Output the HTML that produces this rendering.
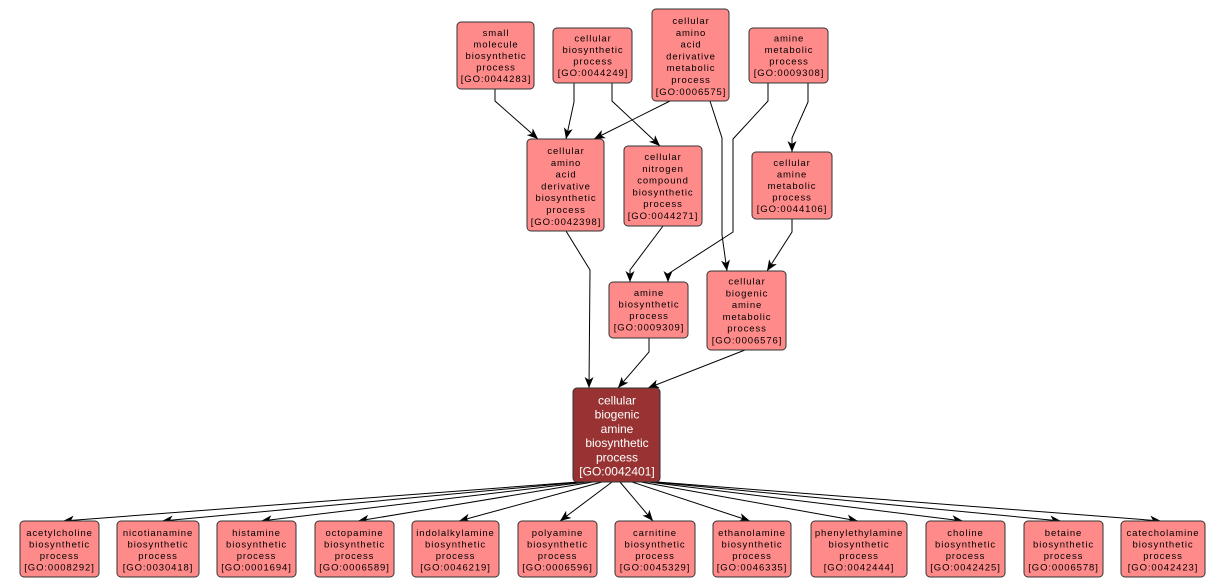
<!DOCTYPE html>
<html>
<head>
<meta charset="utf-8">
<style>
html,body{margin:0;padding:0;background:#fff;}
svg{display:block;}
.n rect{fill:#ff8a8a;stroke:#333;stroke-width:1;}
.n text{font-family:"Liberation Sans",sans-serif;font-size:9.5px;letter-spacing:0.9px;fill:#000;text-anchor:middle;}
.c rect{fill:#993333;stroke:#333;stroke-width:1;}
.c text{font-family:"Liberation Sans",sans-serif;font-size:12px;fill:#fff;text-anchor:middle;}
.e{fill:none;stroke:#000;stroke-width:1;marker-end:url(#ah);}
</style>
</head>
<body>
<svg width="1226" height="588" viewBox="0 0 1226 588" xmlns="http://www.w3.org/2000/svg">
<defs>
<marker id="ah" markerUnits="userSpaceOnUse" markerWidth="12" markerHeight="10" refX="11" refY="4.5" orient="auto">
<path d="M0,0 L11,4.5 L0,9 L3,4.5 z" fill="#000"/>
</marker>
</defs>

<!-- edges top -->
<polyline class="e" points="495,89 495,101 538,139"/>
<polyline class="e" points="574,83 574,102 566,139"/>
<polyline class="e" points="612,83 612,101 660,146"/>
<polyline class="e" points="670,101 594,139"/>
<polyline class="e" points="710,101 722,138 722,235 727,271"/>
<polyline class="e" points="768,83 768,101 733,139 733,232 668,274 668,282"/>
<polyline class="e" points="808,83 808,102 792,138 792,152"/>
<polyline class="e" points="792,219 792,232 767,271"/>
<polyline class="e" points="663,226 630,270 630,282"/>
<polyline class="e" points="566,231 590,270 589,388"/>
<polyline class="e" points="649,338 649,352 618,388"/>
<polyline class="e" points="745,350 648,388"/>

<!-- edges bottom -->
<polyline class="e" points="578,482 63,521"/>
<polyline class="e" points="582,482 162,521"/>
<polyline class="e" points="587,482 261,521"/>
<polyline class="e" points="593,482 358,521"/>
<polyline class="e" points="602,482 459,521"/>
<polyline class="e" points="612,482 560,521"/>
<polyline class="e" points="620,482 653,521"/>
<polyline class="e" points="632,482 750,521"/>
<polyline class="e" points="641,482 858,521"/>
<polyline class="e" points="648,482 963,521"/>
<polyline class="e" points="653,482 1061,521"/>
<polyline class="e" points="657,482 1161,521"/>

<!-- top row -->
<g class="n"><rect x="457" y="22" width="77" height="67" rx="4"/>
<text x="496" y="36">small</text><text x="496" y="47.5">molecule</text><text x="496" y="59">biosynthetic</text><text x="496" y="70.5">process</text><text x="496" y="82">[GO:0044283]</text></g>

<g class="n"><rect x="553" y="28" width="79" height="55" rx="4"/>
<text x="593" y="41.5">cellular</text><text x="593" y="53">biosynthetic</text><text x="593" y="64.5">process</text><text x="593" y="76">[GO:0044249]</text></g>

<g class="n"><rect x="652" y="9" width="77" height="92" rx="4"/>
<text x="691" y="24">cellular</text><text x="691" y="35.8">amino</text><text x="691" y="47.6">acid</text><text x="691" y="59.4">derivative</text><text x="691" y="71.2">metabolic</text><text x="691" y="83">process</text><text x="691" y="94.8">[GO:0006575]</text></g>

<g class="n"><rect x="749" y="28" width="79" height="55" rx="4"/>
<text x="789" y="41.5">amine</text><text x="789" y="53">metabolic</text><text x="789" y="64.5">process</text><text x="789" y="76">[GO:0009308]</text></g>

<!-- second row -->
<g class="n"><rect x="527" y="139" width="77" height="92" rx="4"/>
<text x="566" y="154">cellular</text><text x="566" y="165.8">amino</text><text x="566" y="177.6">acid</text><text x="566" y="189.4">derivative</text><text x="566" y="201.2">biosynthetic</text><text x="566" y="213">process</text><text x="566" y="224.8">[GO:0042398]</text></g>

<g class="n"><rect x="624" y="146" width="78" height="80" rx="4"/>
<text x="663" y="160">cellular</text><text x="663" y="171.8">nitrogen</text><text x="663" y="183.6">compound</text><text x="663" y="195.4">biosynthetic</text><text x="663" y="207.2">process</text><text x="663" y="219">[GO:0044271]</text></g>

<g class="n"><rect x="752" y="152" width="80" height="67" rx="4"/>
<text x="792" y="166">cellular</text><text x="792" y="177.5">amine</text><text x="792" y="189">metabolic</text><text x="792" y="200.5">process</text><text x="792" y="212">[GO:0044106]</text></g>

<!-- third row -->
<g class="n"><rect x="609" y="282" width="79" height="56" rx="4"/>
<text x="649" y="296">amine</text><text x="649" y="307.5">biosynthetic</text><text x="649" y="319">process</text><text x="649" y="330.5">[GO:0009309]</text></g>

<g class="n"><rect x="707" y="271" width="79" height="79" rx="4"/>
<text x="747" y="284.5">cellular</text><text x="747" y="296.3">biogenic</text><text x="747" y="308.1">amine</text><text x="747" y="319.9">metabolic</text><text x="747" y="331.7">process</text><text x="747" y="343.5">[GO:0006576]</text></g>

<!-- central -->
<g class="c"><rect x="573" y="388" width="87" height="94" rx="4"/>
<text x="617" y="404.5">cellular</text><text x="617" y="418.7">biogenic</text><text x="617" y="432.9">amine</text><text x="617" y="447.1">biosynthetic</text><text x="617" y="461.3">process</text><text x="617" y="475.5">[GO:0042401]</text></g>

<!-- bottom row -->
<g class="n"><rect x="20" y="521" width="79" height="56" rx="4"/>
<text x="59.5" y="536">acetylcholine</text><text x="59.5" y="547.5">biosynthetic</text><text x="59.5" y="559">process</text><text x="59.5" y="570.5">[GO:0008292]</text></g>

<g class="n"><rect x="117" y="521" width="82" height="56" rx="4"/>
<text x="158" y="536">nicotianamine</text><text x="158" y="547.5">biosynthetic</text><text x="158" y="559">process</text><text x="158" y="570.5">[GO:0030418]</text></g>

<g class="n"><rect x="217" y="521" width="79" height="56" rx="4"/>
<text x="256.5" y="536">histamine</text><text x="256.5" y="547.5">biosynthetic</text><text x="256.5" y="559">process</text><text x="256.5" y="570.5">[GO:0001694]</text></g>

<g class="n"><rect x="315" y="521" width="79" height="56" rx="4"/>
<text x="354.5" y="536">octopamine</text><text x="354.5" y="547.5">biosynthetic</text><text x="354.5" y="559">process</text><text x="354.5" y="570.5">[GO:0006589]</text></g>

<g class="n"><rect x="412" y="521" width="87" height="56" rx="4"/>
<text x="455.5" y="536">indolalkylamine</text><text x="455.5" y="547.5">biosynthetic</text><text x="455.5" y="559">process</text><text x="455.5" y="570.5">[GO:0046219]</text></g>

<g class="n"><rect x="518" y="521" width="79" height="56" rx="4"/>
<text x="557.5" y="536">polyamine</text><text x="557.5" y="547.5">biosynthetic</text><text x="557.5" y="559">process</text><text x="557.5" y="570.5">[GO:0006596]</text></g>

<g class="n"><rect x="615" y="521" width="80" height="56" rx="4"/>
<text x="655" y="536">carnitine</text><text x="655" y="547.5">biosynthetic</text><text x="655" y="559">process</text><text x="655" y="570.5">[GO:0045329]</text></g>

<g class="n"><rect x="713" y="521" width="78" height="56" rx="4"/>
<text x="752" y="536">ethanolamine</text><text x="752" y="547.5">biosynthetic</text><text x="752" y="559">process</text><text x="752" y="570.5">[GO:0046335]</text></g>

<g class="n"><rect x="811" y="521" width="96" height="56" rx="4"/>
<text x="859" y="536">phenylethylamine</text><text x="859" y="547.5">biosynthetic</text><text x="859" y="559">process</text><text x="859" y="570.5">[GO:0042444]</text></g>

<g class="n"><rect x="926" y="521" width="79" height="56" rx="4"/>
<text x="965.5" y="536">choline</text><text x="965.5" y="547.5">biosynthetic</text><text x="965.5" y="559">process</text><text x="965.5" y="570.5">[GO:0042425]</text></g>

<g class="n"><rect x="1024" y="521" width="79" height="56" rx="4"/>
<text x="1063.5" y="536">betaine</text><text x="1063.5" y="547.5">biosynthetic</text><text x="1063.5" y="559">process</text><text x="1063.5" y="570.5">[GO:0006578]</text></g>

<g class="n"><rect x="1121" y="521" width="84" height="56" rx="4"/>
<text x="1163" y="536">catecholamine</text><text x="1163" y="547.5">biosynthetic</text><text x="1163" y="559">process</text><text x="1163" y="570.5">[GO:0042423]</text></g>
</svg>
</body>
</html>
